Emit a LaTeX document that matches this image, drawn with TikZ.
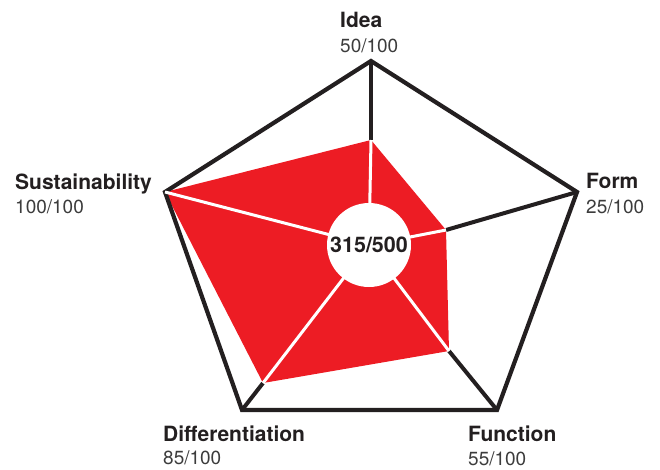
\documentclass[tikz,border=0pt]{standalone}
\usepackage{fontspec}
\setmainfont{TeX Gyre Heros}
\definecolor{radarred}{HTML}{ED1C24}
\definecolor{radarink}{HTML}{231F20}
\definecolor{scoregray}{HTML}{3C3C3C}
\tikzset{
  axis name/.style={anchor=base west, inner sep=0pt, text=radarink,
    font=\fontsize{21}{25}\selectfont\bfseries},
  axis score/.style={anchor=base west, inner sep=0pt, text=scoregray,
    font=\fontsize{19}{23}\selectfont},
}
\begin{document}
\begin{tikzpicture}[x=1pt, y=-1pt]
    \useasboundingbox (0,0) rectangle (660,469);
    % corners of the pentagon
    \coordinate (idea) at (371,61);
    \coordinate (form) at (577,192);
    \coordinate (func) at (497,410);
    \coordinate (diff) at (242,410);
    \coordinate (sust) at (165,192);
    % score points
    \coordinate (c) at (369,245);
    \coordinate (s-idea) at (371,140);
    \coordinate (s-form) at (446,230);
    \coordinate (s-func) at (449,351);
    \coordinate (s-diff) at (263,383);
    \coordinate (s-sust) at (165,192);
    \fill[radarred] (s-idea) -- (s-form) -- (s-func) -- (s-diff) -- (s-sust) -- cycle;
    \foreach \a in {idea,form,func,diff}
      \draw[line width=4pt, radarink] (s-\a) -- (\a);
    \draw[line width=4.2pt, radarink, line join=miter] (idea) -- (form) -- (func) -- (diff) -- (sust) -- cycle;
    \foreach \a in {idea,form,func,diff,sust}
      \draw[line width=3pt, white] (c) -- (s-\a);
    \node[circle, fill=white, minimum size=84pt, inner sep=0pt, text=radarink,
      font=\fontsize{21.5}{25}\selectfont\bfseries] (total) at (c) {315/500};
    % labels
    \node[axis name] (n-idea) at (340,27) {Idea};
    \node[axis score] (v-idea) at (340,52) {50/100};
    \node[axis name] (n-form) at (586,188) {Form};
    \node[axis score] (v-form) at (586,213) {25/100};
    \node[axis name] (n-func) at (468,441) {Function};
    \node[axis score] (v-func) at (468,465) {55/100};
    \node[axis name] (n-diff) at (163,441) {Differentiation};
    \node[axis score] (v-diff) at (163,464) {85/100};
    \node[axis name] (n-sust) at (15,189) {Sustainability};
    \node[axis score] (v-sust) at (15,213) {100/100};
  \end{tikzpicture}
\end{document}
